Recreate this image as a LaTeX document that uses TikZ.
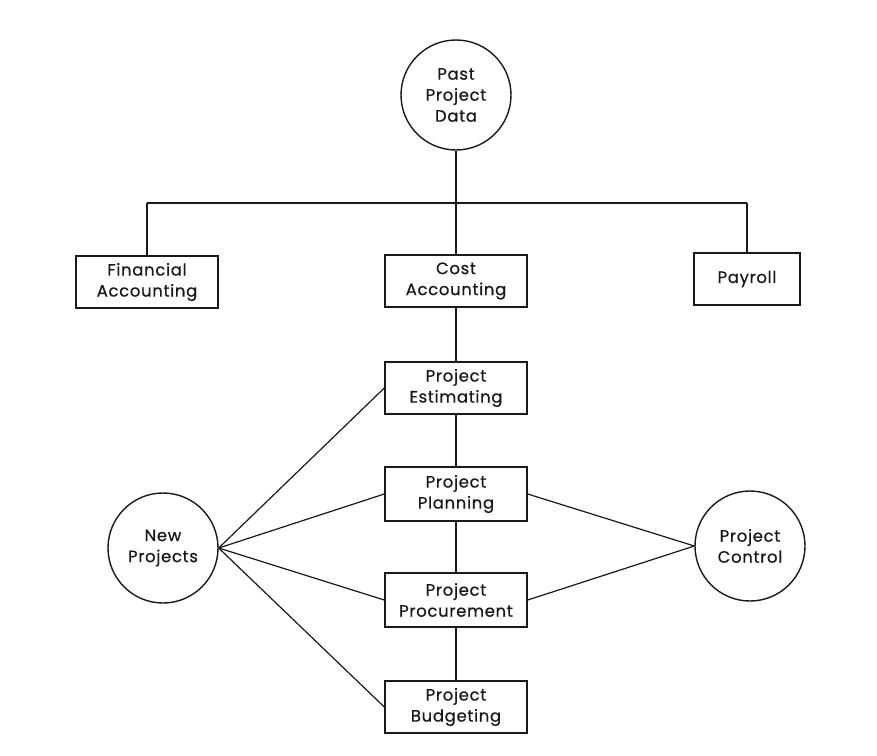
\documentclass[tikz,border=0pt]{standalone}
\usepackage{fontspec}
\setmainfont{Poppins}[LetterSpace=4, FakeBold=0.6]
\begin{document}
\begin{tikzpicture}[x=1pt,y=-1pt,
  every node/.style={font=\fontsize{16.5}{21}\selectfont, align=center, text=black!90},
  box/.style={draw=black!90, rectangle, line width=1.4pt, minimum width=142pt, minimum height=52pt, inner sep=0pt},
  disc/.style={draw=black!90, circle, line width=1.4pt, minimum size=110pt, inner sep=0pt},
  link/.style={draw=black!90, line width=1.2pt}]
\useasboundingbox (0,0) rectangle (877,755);

% information sources
\node[disc] (past) at (456,95) {Past\\Project\\Data};
\node[disc] (new) at (163,548) {New\\Projects};
\node[disc] (ctrl) at (750,546) {Project\\Control};

% accounting level
\node[box] (fin) at (147,282) {Financial\\Accounting};
\node[box] (cost) at (456,281) {Cost\\Accounting};
\node[box, minimum width=106pt] (pay) at (747,279) {Payroll};

% project chain
\node[box] (est) at (456,388) {Project\\Estimating};
\node[box, minimum height=54pt] (plan) at (456,494) {Project\\Planning};
\node[box, minimum height=54pt] (proc) at (456,600) {Project\\Procurement};
\node[box] (budg) at (456,707) {Project\\Budgeting};

% distribution bus below the data source
\coordinate (busL) at (147,203);
\coordinate (busC) at (456,203);
\coordinate (busR) at (747,203);

\draw[link] (past.south) -- (busC);
\draw[link] (busL) -- (busR);
\draw[link] (busL) -- (fin.north);
\draw[link] (busR) -- (pay.north);
\draw[link] (busC) -- (cost.north);

% vertical chain
\draw[link] (cost.south) -- (est.north);
\draw[link] (est.south) -- (plan.north);
\draw[link] (plan.south) -- (proc.north);
\draw[link] (proc.south) -- (budg.north);

% fan-out from new projects
\draw[link] (new.east) -- (est.west);
\draw[link] (new.east) -- (plan.west);
\draw[link] (new.east) -- (proc.west);
\draw[link] (new.east) -- (budg.west);

% fan-in to project control
\draw[link] (plan.east) -- (ctrl.west);
\draw[link] (proc.east) -- (ctrl.west);
\end{tikzpicture}
\end{document}
